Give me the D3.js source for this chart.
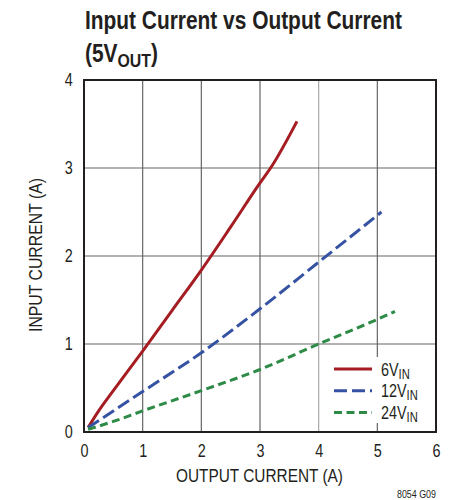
<!DOCTYPE html>
<html>
<head>
<meta charset="utf-8">
<script src="https://cdn.jsdelivr.net/npm/d3@7"></script>
<style>
  body { margin: 0; background: #fff; }
  text { font-family: "Liberation Sans", Arial, sans-serif; fill: #231f20; }
</style>
</head>
<body>
<div id="chart"></div>
<script>
const in6V = [[0.07, 0.05], [0.25, 0.24], [0.5, 0.47], [1, 0.92], [1.5, 1.38], [2, 1.84], [2.5, 2.33], [3, 2.83], [3.2, 3.02], [3.63, 3.53]];
const in12V = [[0.07, 0.05], [0.5, 0.24], [1, 0.46], [2, 0.9], [3, 1.4], [4, 1.93], [5.07, 2.5]];
const in24V = [[0.07, 0.03], [0.5, 0.12], [1, 0.24], [2, 0.47], [3, 0.71], [4, 1.0], [5, 1.28], [5.3, 1.37]];

const xTicks = [0, 1, 2, 3, 4, 5, 6];
const yTicks = [0, 1, 2, 3, 4];

const series = [
  { name: "6V", sub: "IN", data: in6V, color: "#a51d22", dash: null },
  { name: "12V", sub: "IN", data: in12V, color: "#3652a3", dash: "13,5" },
  { name: "24V", sub: "IN", data: in24V, color: "#2e8b47", dash: "8,4.5" }
];

const W = 453, H = 500;
const m = { left: 84, right: 17, top: 80, bottom: 68 };
const k = 0.8; // schmale Schrift nachbilden

const svg = d3.select("#chart").append("svg")
  .attr("width", W)
  .attr("height", H);

const x = d3.scaleLinear().domain([0, 6]).range([m.left, W - m.right]);
const y = d3.scaleLinear().domain([0, 4]).range([H - m.bottom, m.top]);

// Titel
const t1 = svg.append("text")
  .attr("x", 85).attr("y", 29)
  .style("font-size", "25px").style("font-weight", "bold")
  .text("Input Current vs Output Current");
const kt = 317 / t1.node().getComputedTextLength();
t1.attr("x", 0).attr("y", 0).attr("transform", `translate(85,29) scale(${kt},1)`);

const t2 = svg.append("text")
  .attr("transform", `translate(85,62) scale(${kt},1)`)
  .style("font-size", "25px").style("font-weight", "bold");
t2.append("tspan").text("(5V");
t2.append("tspan").attr("dy", 5).style("font-size", "19px").text("OUT");
t2.append("tspan").attr("dy", -5).text(")");

// Gitterlinien
svg.append("g").selectAll("line")
  .data(xTicks.slice(1, -1))
  .join("line")
  .attr("x1", d => x(d)).attr("x2", d => x(d))
  .attr("y1", y(0)).attr("y2", y(4))
  .attr("stroke", d => d === 4 ? "#aaa" : "#666")
  .attr("stroke-width", 1.2);
svg.append("g").selectAll("line")
  .data(yTicks.slice(1, -1))
  .join("line")
  .attr("x1", x(0)).attr("x2", x(6))
  .attr("y1", d => y(d)).attr("y2", d => y(d))
  .attr("stroke", "#666")
  .attr("stroke-width", 1.2);

// Rahmen
svg.append("rect")
  .attr("x", x(0)).attr("y", y(4))
  .attr("width", x(6) - x(0)).attr("height", y(0) - y(4))
  .attr("fill", "none")
  .attr("stroke", "#231f20")
  .attr("stroke-width", 2);

// Legendenhintergrund
svg.append("rect")
  .attr("x", 330).attr("y", 357)
  .attr("width", x(6) - 331).attr("height", 66)
  .attr("fill", "#fff");

// Kurven
const line = d3.line()
  .x(d => x(d[0]))
  .y(d => y(d[1]))
  .curve(d3.curveMonotoneX);

series.forEach(s => {
  svg.append("path")
    .datum(s.data)
    .attr("d", line)
    .attr("fill", "none")
    .attr("stroke", s.color)
    .attr("stroke-width", 3)
    .attr("stroke-dasharray", s.dash);
});

// Achsenbeschriftung
const xAxis = d3.axisBottom(x).tickValues(xTicks).tickFormat(d3.format("d")).tickSize(0).tickPadding(12);
svg.append("g")
  .attr("transform", `translate(0,${y(0)})`)
  .call(xAxis)
  .call(g => g.select(".domain").remove())
  .call(g => g.selectAll("text")
    .style("font-size", "18px").style("font-family", null).attr("fill", "#231f20")
    .attr("transform", `scale(${k},1)`));

const yAxis = d3.axisLeft(y).tickValues(yTicks).tickFormat(d3.format("d")).tickSize(0).tickPadding(14);
svg.append("g")
  .attr("transform", `translate(${x(0)},0)`)
  .call(yAxis)
  .call(g => g.select(".domain").remove())
  .call(g => g.selectAll("text")
    .style("font-size", "18px").style("font-family", null).attr("fill", "#231f20")
    .attr("transform", `scale(${k},1)`));

svg.append("text")
  .attr("x", 176).attr("y", 482)
  .attr("textLength", 167).attr("lengthAdjust", "spacingAndGlyphs")
  .style("font-size", "18px")
  .text("OUTPUT CURRENT (A)");

svg.append("text")
  .attr("transform", "translate(42,332) rotate(-90)")
  .attr("textLength", 154).attr("lengthAdjust", "spacingAndGlyphs")
  .style("font-size", "18px")
  .text("INPUT CURRENT (A)");

// Legende
series.forEach((s, i) => {
  const ly = 369 + i * 21.7;
  svg.append("line")
    .attr("x1", 334).attr("x2", 372)
    .attr("y1", ly).attr("y2", ly)
    .attr("stroke", s.color)
    .attr("stroke-width", 3)
    .attr("stroke-dasharray", s.dash);
  const t = svg.append("text")
    .attr("transform", `translate(381,${ly + 6.5}) scale(${k},1)`)
    .style("font-size", "18px");
  t.append("tspan").text(s.name);
  t.append("tspan").attr("dy", 3).style("font-size", "14px").text(s.sub);
});

svg.append("text")
  .attr("x", 397).attr("y", 498)
  .attr("textLength", 39).attr("lengthAdjust", "spacingAndGlyphs")
  .style("font-size", "11px")
  .text("8054 G09");
</script>
</body>
</html>
